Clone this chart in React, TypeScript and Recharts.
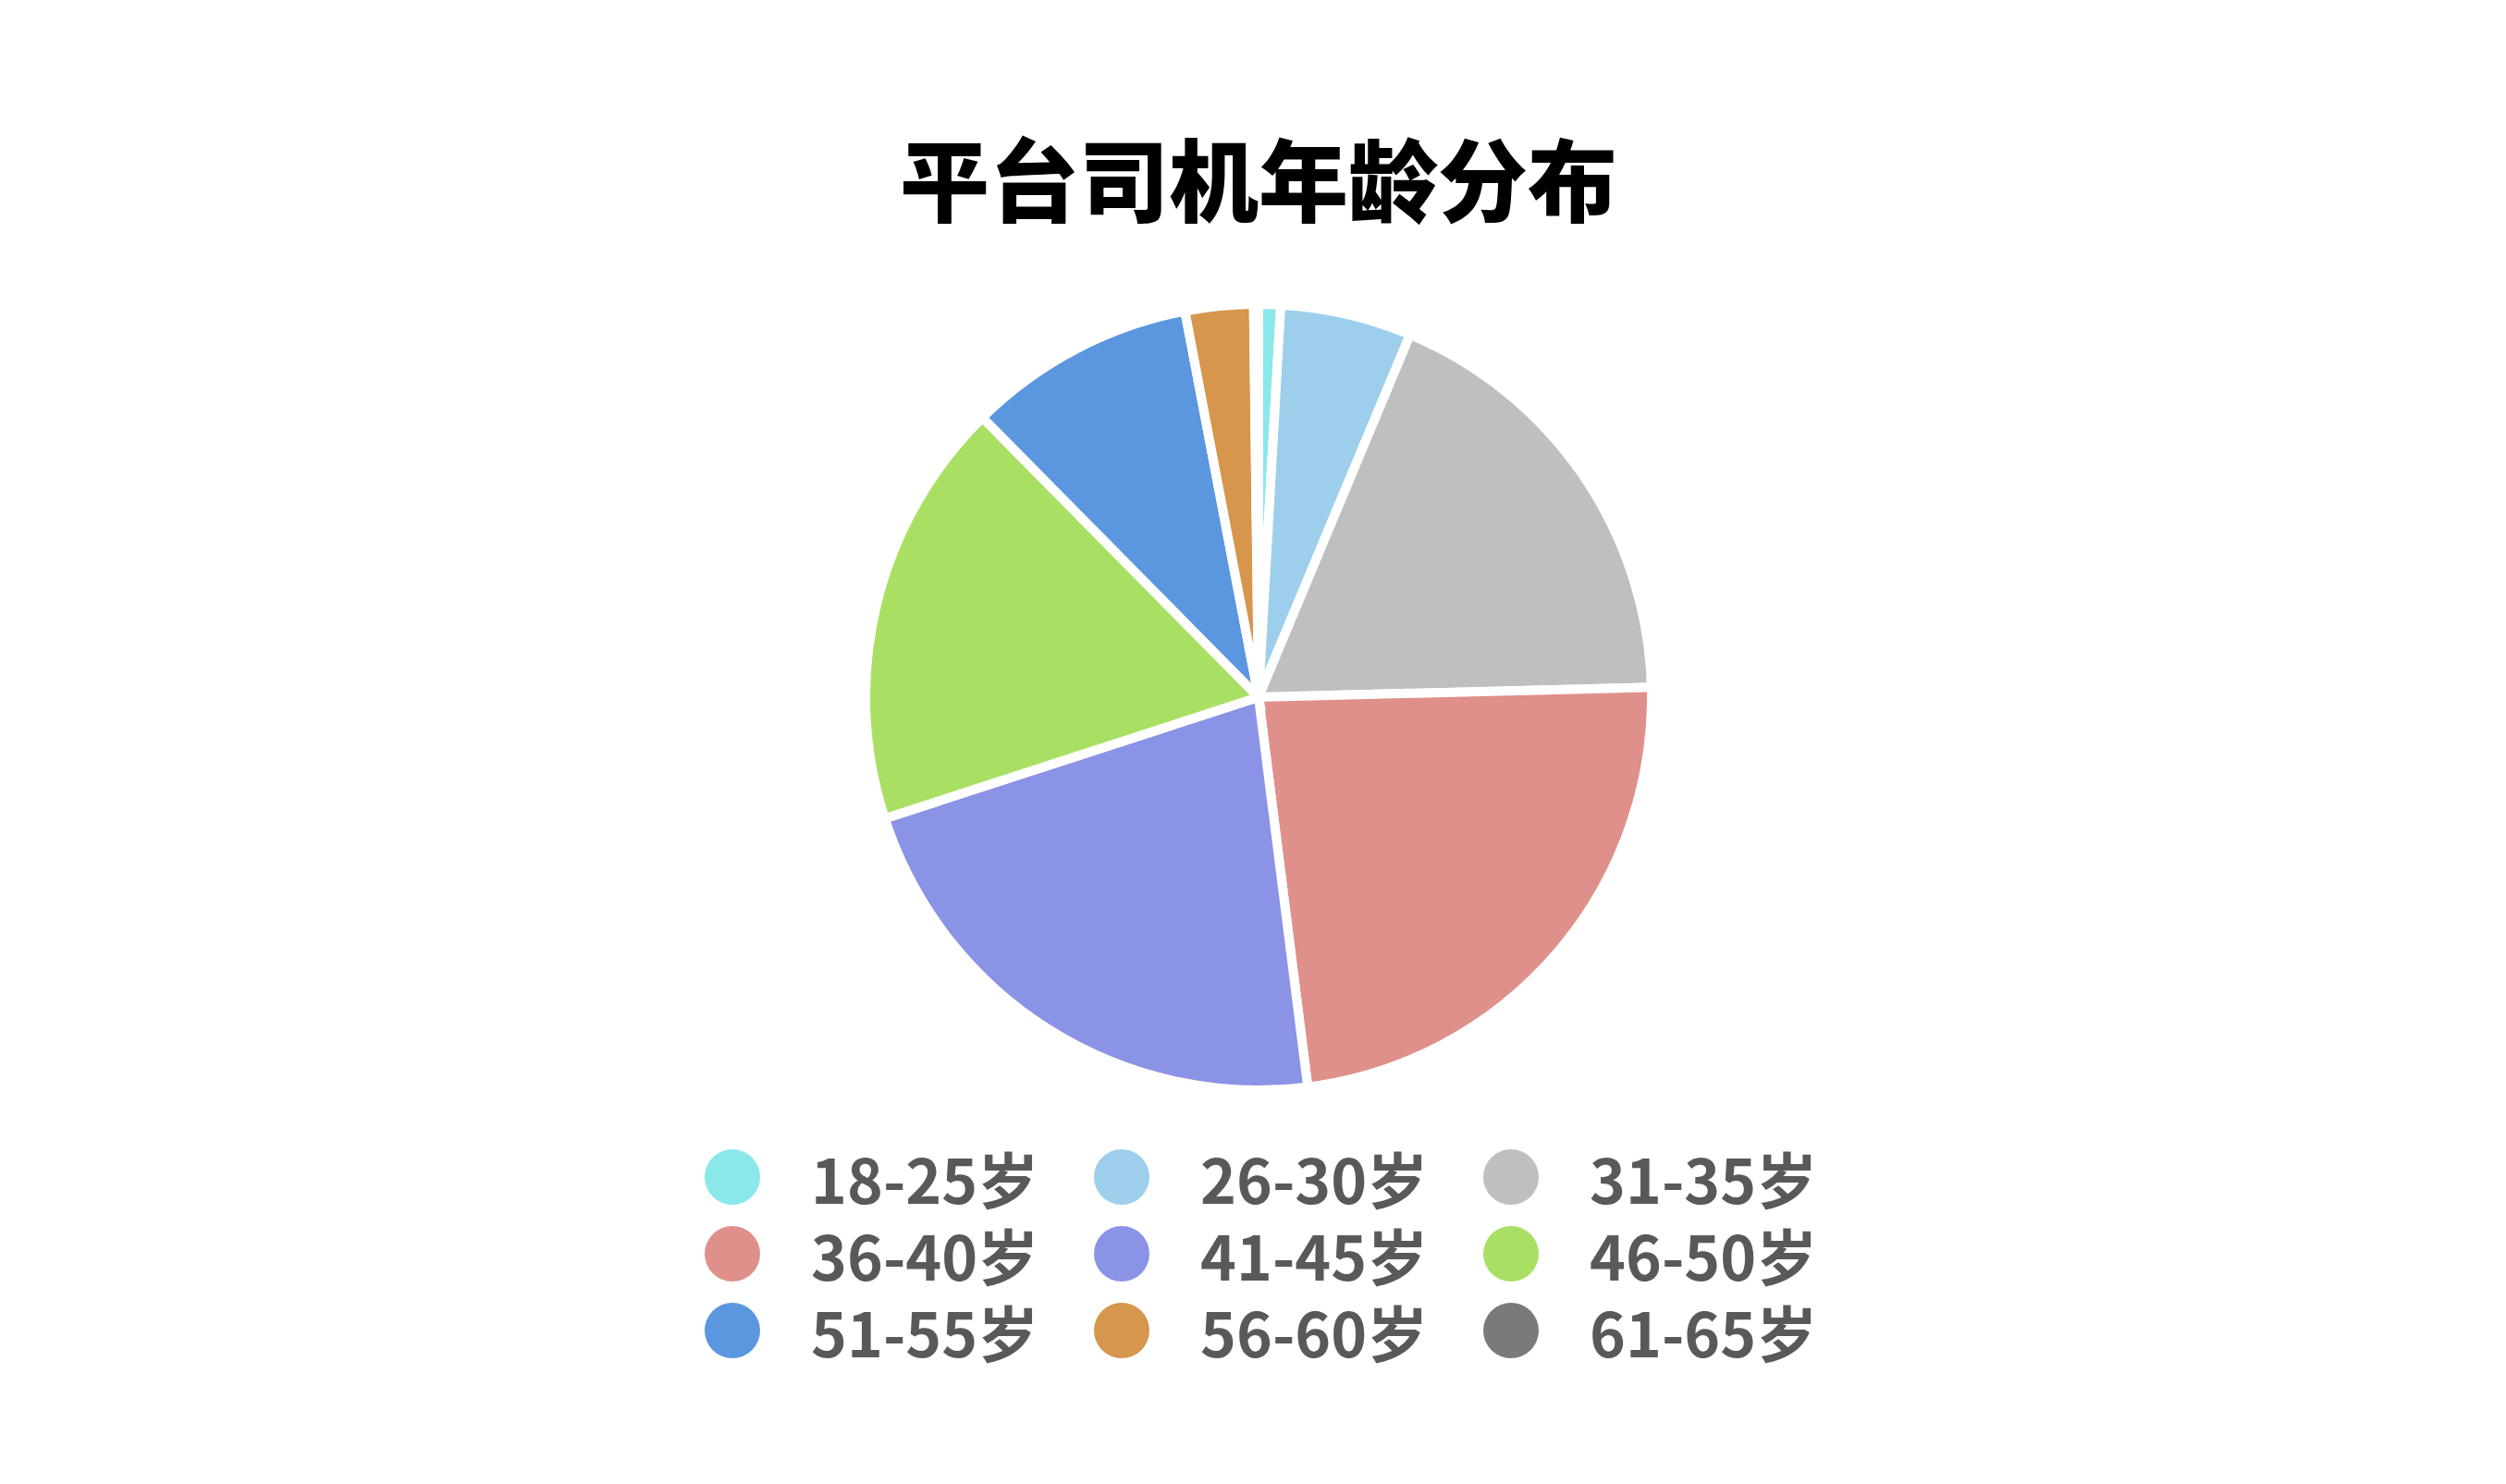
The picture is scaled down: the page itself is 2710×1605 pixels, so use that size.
import React from 'react';
import { PieChart, Pie, Cell, Legend } from 'recharts';

// 年龄段 / 占比(%) / 颜色
const ageGroups = ['18-25岁', '26-30岁', '31-35岁', '36-40岁', '41-45岁', '46-50岁', '51-55岁', '56-60岁', '61-65岁'];
const shares = [0.9, 5.4, 18.3, 23.4, 22.0, 17.6, 9.4, 2.8, 0.2];
const colors = ['#8AE8EA', '#9DCFEC', '#BFBFBF', '#DF908A', '#8B93E6', '#A9E064', '#5B97DF', '#D6964D', '#7A7A7A'];

const data = ageGroups.map((name, i) => ({ name, value: shares[i] }));

const font = '"Noto Sans CJK SC", "Microsoft YaHei", sans-serif';

const renderLegend = (props: any) => {
  const items = props.payload || [];
  return (
    <div style={{ display: 'grid', gridTemplateColumns: 'repeat(3, 421px)', gridAutoRows: '83px' }}>
      {items.map((entry: any, i: number) => (
        <div key={i} style={{ display: 'flex', alignItems: 'center' }}>
          <span style={{ width: 60, height: 60, borderRadius: '50%', background: colors[i], display: 'inline-block', marginRight: 55, flexShrink: 0 }} />
          <span style={{ fontFamily: font, fontWeight: 700, fontSize: 66, color: '#595959', lineHeight: 1 }}>{entry.value}</span>
        </div>
      ))}
    </div>
  );
};

export default function App() {
  return (
    <div style={{ position: 'absolute', left: 0, top: 0, width: 2710, height: 1605, background: '#fff' }}>
      <div style={{ position: 'absolute', left: 6, top: 131, width: 2710, textAlign: 'center', fontFamily: font, fontWeight: 900, fontSize: 97, color: '#000', lineHeight: '118px' }}>
        平台司机年龄分布
      </div>
      <PieChart width={2710} height={1605}>
        <Pie
          data={data}
          dataKey="value"
          nameKey="name"
          cx={1356}
          cy={749}
          outerRadius={425}
          startAngle={90}
          endAngle={-270}
          stroke="#ffffff"
          strokeWidth={10}
          isAnimationActive={false}
        >
          {data.map((d, i) => (
            <Cell key={d.name} fill={colors[i]} />
          ))}
        </Pie>
        <Legend content={renderLegend} wrapperStyle={{ position: 'absolute', left: 762, top: 1231, width: 1263 }} />
      </PieChart>
    </div>
  );
}
